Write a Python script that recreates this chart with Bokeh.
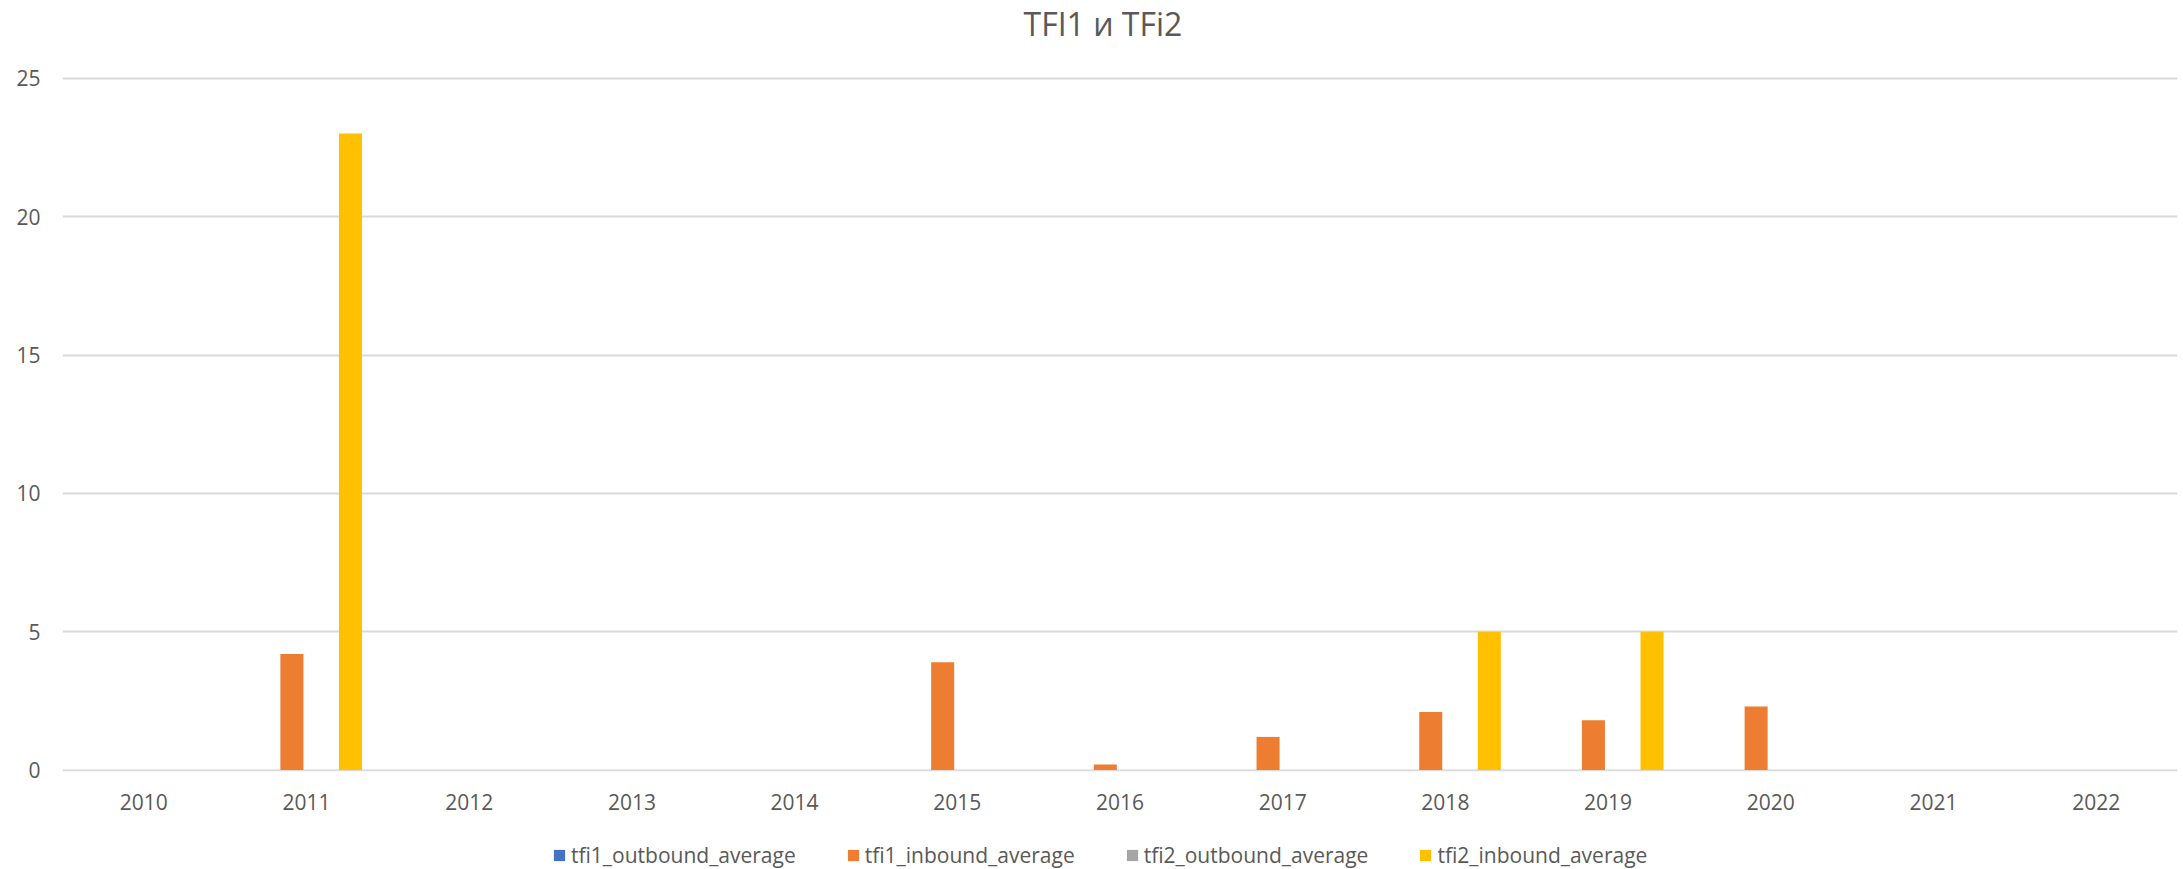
from bokeh.plotting import figure
from bokeh.layouts import column
from bokeh.models import (FactorRange, Range1d, FixedTicker, Legend, LegendItem,
                          ColumnDataSource, Label)
from bokeh.transform import dodge
from bokeh.embed import file_html
from bokeh.resources import INLINE

years = ["2010", "2011", "2012", "2013", "2014", "2015", "2016",
         "2017", "2018", "2019", "2020", "2021", "2022"]
tfi1_outbound_average = [0, 0, 0, 0, 0, 0, 0, 0, 0, 0, 0, 0, 0]
tfi1_inbound_average = [0, 4.2, 0, 0, 0, 3.9, 0.2, 1.2, 2.1, 1.8, 2.3, 0, 0]
tfi2_outbound_average = [0, 0, 0, 0, 0, 0, 0, 0, 0, 0, 0, 0, 0]
tfi2_inbound_average = [0, 23, 0, 0, 0, 0, 0, 0, 5, 5, 0, 0, 0]
series_names = ["tfi1_outbound_average", "tfi1_inbound_average",
                "tfi2_outbound_average", "tfi2_inbound_average"]
series_colors = ["#4472C4", "#ED7D31", "#A5A5A5", "#FFC000"]
y_ticks = [0, 5, 10, 15, 20, 25]
title_text = "TFI1 и TFi2"

FONT = "Open Sans"
TXT = "#595959"
W = 2183


def bare(h):
    f = figure(width=W, height=h, x_range=Range1d(0, 1), y_range=Range1d(0, 1),
               output_backend="svg", toolbar_location=None,
               x_axis_location=None, y_axis_location=None,
               min_border=0, min_border_left=0, min_border_right=0,
               min_border_top=0, min_border_bottom=0)
    f.grid.visible = False
    f.outline_line_color = None
    f.background_fill_color = "white"
    f.border_fill_color = "white"
    return f


# ---- title strip (frame of this strip is aligned with the chart frame, left edge x=62) ----
top = bare(60)
top.add_layout(Label(x=961, y=37, x_units="screen", y_units="screen", text=title_text,
                     text_font=FONT, text_font_size="32px", text_color=TXT,
                     text_baseline="middle", text_align="left"))

# ---- main chart ----
source = ColumnDataSource(dict(
    year=years,
    tfi1_outbound_average=tfi1_outbound_average,
    tfi1_inbound_average=tfi1_inbound_average,
    tfi2_outbound_average=tfi2_outbound_average,
    tfi2_inbound_average=tfi2_inbound_average,
))

p = figure(width=W, height=770, x_range=FactorRange(*years), y_range=Range1d(-0.05, 25.1),
           output_backend="svg", toolbar_location=None,
           min_border_left=62, min_border_right=6, min_border_top=15, min_border_bottom=59)
p.outline_line_color = None
p.background_fill_color = "white"
p.border_fill_color = "white"

offsets = [-0.27, -0.09, 0.09, 0.27]
bar_w = 0.1415
for name, col, off in zip(series_names, series_colors, offsets):
    p.vbar(x=dodge("year", off, range=p.x_range), top=name, width=bar_w, bottom=0,
           source=source, fill_color=col, line_color=None)

p.xgrid.grid_line_color = None
p.ygrid.grid_line_color = "#D9D9D9"
p.ygrid.grid_line_width = 2
p.ygrid.ticker = FixedTicker(ticks=y_ticks)

p.yaxis.ticker = FixedTicker(ticks=y_ticks)
for ax in (p.xaxis, p.yaxis):
    ax.axis_line_color = None
    ax.major_tick_line_color = None
    ax.minor_tick_line_color = None
    ax.major_tick_out = 0
    ax.major_tick_in = 0
    ax.major_label_text_font = FONT
    ax.major_label_text_font_size = "21px"
    ax.major_label_text_color = TXT
p.yaxis.major_label_standoff = 22
p.xaxis.major_label_standoff = 22

# ---- legend strip ----
leg = bare(39)
items = []
for name, col in zip(series_names, series_colors):
    r = leg.vbar(x=[-5], top=[0], bottom=[0], width=0.1, fill_color=col, line_color=None)
    items.append(LegendItem(label=name, renderers=[r]))
legend = Legend(items=items, orientation="horizontal", location=(490, 0),
                label_text_font=FONT, label_text_font_size="21px", label_text_color=TXT,
                glyph_width=14, glyph_height=14, label_standoff=5, spacing=50,
                padding=0, margin=0, border_line_color=None, background_fill_alpha=0)
leg.add_layout(legend, "center")

layout = column(top, p, leg, spacing=0)
open("out.html", "w").write(file_html(layout, INLINE))
